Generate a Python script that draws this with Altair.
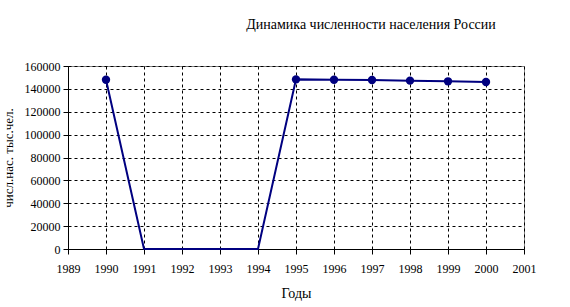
import altair as alt
import pandas as pd

years = [1990, 1991, 1994, 1995, 1996, 1997, 1998, 1999, 2000]
population = [148000, 0, 0, 148300, 148000, 147800, 147200, 146600, 146000]
marker_years = [1990, 1995, 1996, 1997, 1998, 1999, 2000]
marker_pop = [148000, 148300, 148000, 147800, 147200, 146600, 146000]
x_ticks = list(range(1989, 2002))
y_ticks = list(range(0, 160001, 20000))

df = pd.DataFrame({"year": years, "pop": population})
dm = pd.DataFrame({"year": marker_years, "pop": marker_pop})

font = "Liberation Serif"
navy = "#000080"

x_enc = alt.X("year:Q", scale=alt.Scale(domain=[1989, 2001], nice=False, zero=False),
              axis=alt.Axis(values=x_ticks, tickCount=13, format="d", title="Годы",
                            titleFont=font, labelFont=font, titleFontSize=14,
                            titlePadding=12, labelFontSize=12, tickSize=5, labelPadding=9,
                            labelOverlap=False, labelFlush=False, grid=True))
y_enc = alt.Y("pop:Q", scale=alt.Scale(domain=[0, 160000], nice=False),
              axis=alt.Axis(values=y_ticks, tickCount=9, format="d", title="числ.нас. тыс.чел.",
                            titleFont=font, labelFont=font,
                            titleFontSize=13, titlePadding=9, labelFontSize=12,
                            tickSize=5, labelPadding=3, labelOverlap=False,
                            labelFlush=False, grid=True))

line = alt.Chart(df).mark_line(color=navy, strokeWidth=2).encode(x=x_enc, y=y_enc)
points = alt.Chart(dm).mark_circle(color=navy, size=70, opacity=1).encode(x="year:Q", y="pop:Q")

title = alt.Chart(pd.DataFrame({"t": ["Динамика численности населения России"]})).mark_text(
    font=font, fontSize=14, color="black", align="center", baseline="middle"
).encode(x=alt.value(303), y=alt.value(-41), text="t:N")

chart = alt.layer(line, points, title).properties(
    width=456, height=183,
    padding={"left": 68, "top": 66, "right": 46, "bottom": 58},
    autosize=alt.AutoSizeParams(type="none"),
    background="white",
).configure(font=font).configure_view(stroke="#808080", strokeWidth=1).configure_axis(
    labelFont=font, titleFont=font,
    labelColor="black", titleColor="black",
    titleFontWeight="normal", domainColor="black", tickColor="black",
    gridColor="black", gridDash=[3, 3], gridWidth=1, domainWidth=1,
)

chart.save("out.html", embed_options={"renderer": "svg", "actions": False})
